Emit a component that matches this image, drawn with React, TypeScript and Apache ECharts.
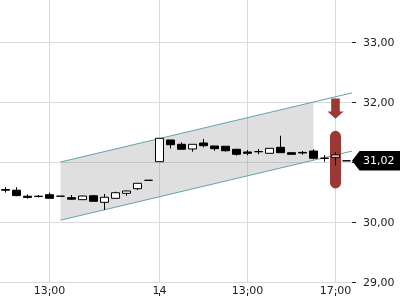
import React, { useEffect, useRef } from "react";
import * as echarts from "echarts";

const categories = [
  "11:00", "11:30", "12:00", "12:30", "13:00", "13:30", "14:00", "14:30", "15:00", "15:30",
  "16:00", "16:30", "17:00", "17:30", "14", "09:30", "10:00", "10:30", "11:00", "11:30",
  "12:00", "12:30", "13:00", "13:30", "14:00", "14:30", "15:00", "15:30", "16:00", "16:30",
  "17:00", "17:30",
];
const labelIndices = [4, 14, 22, 30];

const opens = [
  30.54, 30.53, 30.43, 30.43, 30.455, 30.43, 30.405, 30.372, 30.438, 30.328,
  30.395, 30.478, 30.555, 30.695, 31.005, 31.367, 31.295, 31.217, 31.317, 31.267,
  31.262, 31.212, 31.167, 31.175, 31.145, 31.245, 31.155, 31.16, 31.183, 31.065,
  31.078, 31.02,
];
const closes = [
  30.53, 30.44, 30.41, 30.425, 30.395, 30.43, 30.38, 30.433, 30.345, 30.412,
  30.488, 30.517, 30.645, 30.695, 31.395, 31.288, 31.212, 31.295, 31.272, 31.222,
  31.188, 31.128, 31.145, 31.17, 31.228, 31.155, 31.128, 31.15, 31.062, 31.06,
  31.117, 31.02,
];
const lows = [
  30.49, 30.43, 30.39, 30.41, 30.39, 30.43, 30.37, 30.37, 30.345, 30.2,
  30.395, 30.438, 30.533, 30.695, 31.005, 31.225, 31.212, 31.172, 31.245, 31.188,
  31.172, 31.105, 31.112, 31.128, 31.145, 31.155, 31.12, 31.122, 31.045, 31.005,
  30.945, 31.02,
];
const highs = [
  30.58, 30.58, 30.46, 30.45, 30.49, 30.43, 30.45, 30.44, 30.45, 30.467,
  30.505, 30.52, 30.645, 30.695, 31.395, 31.367, 31.328, 31.295, 31.383, 31.267,
  31.262, 31.212, 31.2, 31.217, 31.228, 31.438, 31.16, 31.183, 31.212, 31.117,
  31.167, 31.02,
];

const yMin = 29;
const yMax = 34;
const yInterval = 1;

const channelIdx = [5, 28];
const channelUpper = [31.0, 32.0];
const channelLower = [30.03, 31.03];

const signalIdx = 30;
const signalBar = [30.56, 31.52];
const signalArrow = [32.06, 31.84, 31.72];

const lastPrice = 31.02;

const fmt = (v: number) => v.toFixed(2).replace(".", ",");

export default function App() {
  const ref = useRef<HTMLDivElement>(null);

  useEffect(() => {
    if (!ref.current) return;
    const chart = echarts.init(ref.current, null, { renderer: "svg" });
    const candleData = opens.map((o, i) => [o, closes[i], lows[i], highs[i]]);
    const showLabel = (i: number) => labelIndices.includes(i);
    const font = "DejaVu Sans";

    chart.setOption({
      animation: false,
      textStyle: { fontFamily: font },
      grid: {
        left: 0,
        right: 48,
        top: -18,
        bottom: 18,
        containLabel: false,
        outerBoundsMode: "none",
      },
      xAxis: [
        {
          type: "category",
          data: categories,
          boundaryGap: true,
          axisLine: { show: false },
          axisTick: { show: false },
          axisLabel: {
            interval: showLabel,
            margin: 3,
            fontSize: 11,
            color: "#222",
            fontFamily: font,
          },
          splitLine: {
            show: true,
            interval: showLabel,
            alignWithLabel: true,
            lineStyle: { color: "#dadada", width: 1 },
          },
        },
        {
          type: "category",
          data: categories,
          position: "bottom",
          offset: 11,
          boundaryGap: true,
          axisLine: { show: false },
          axisTick: {
            show: true,
            interval: showLabel,
            alignWithLabel: true,
            length: 3,
            lineStyle: { color: "#222" },
          },
          axisLabel: { show: false },
          splitLine: { show: false },
        },
      ],
      yAxis: {
        type: "value",
        position: "right",
        min: yMin,
        max: yMax,
        interval: yInterval,
        axisLine: { show: false },
        axisTick: { show: true, length: 4, lineStyle: { color: "#222" } },
        axisLabel: {
          margin: 11,
          fontSize: 11,
          color: "#222",
          fontFamily: font,
          showMaxLabel: false,
          formatter: (v: number) => (v >= yMax ? "" : fmt(v)),
        },
        splitLine: { show: true, lineStyle: { color: "#dadada", width: 1 } },
      },
      series: [
        {
          type: "custom",
          name: "channel",
          silent: true,
          data: [[0, 0]],
          renderItem: (params: any, api: any) => {
            const cs = params.coordSys;
            const right = cs.x + cs.width;
            const u1 = api.coord([channelIdx[0], channelUpper[0]]);
            const u2 = api.coord([channelIdx[1], channelUpper[1]]);
            const l1 = api.coord([channelIdx[0], channelLower[0]]);
            const l2 = api.coord([channelIdx[1], channelLower[1]]);
            const ext = (a: number[], b: number[]) =>
              a[1] + ((right - a[0]) * (b[1] - a[1])) / (b[0] - a[0]);
            return {
              type: "group",
              children: [
                {
                  type: "polygon",
                  shape: { points: [u1, u2, l2, l1] },
                  style: { fill: "rgba(150,150,150,0.3)" },
                },
                {
                  type: "line",
                  shape: { x1: u1[0], y1: u1[1], x2: right, y2: ext(u1, u2) },
                  style: { stroke: "#62a3ab", lineWidth: 1 },
                },
                {
                  type: "line",
                  shape: { x1: l1[0], y1: l1[1], x2: right, y2: ext(l1, l2) },
                  style: { stroke: "#62a3ab", lineWidth: 1 },
                },
              ],
            };
          },
          z: 1,
        },
        {
          type: "custom",
          name: "signalBar",
          silent: true,
          data: [[signalIdx, signalBar[1]]],
          renderItem: (params: any, api: any) => {
            const top = api.coord([signalIdx, signalBar[1]]);
            const bot = api.coord([signalIdx, signalBar[0]]);
            const w = 11;
            return {
              type: "rect",
              shape: { x: top[0] - w / 2, y: top[1], width: w, height: bot[1] - top[1], r: w / 2 },
              style: { fill: "#9b3a35" },
            };
          },
          z: 2,
        },
        {
          type: "candlestick",
          name: "price",
          data: candleData,
          barWidth: 8,
          itemStyle: {
            color: "#ffffff",
            color0: "#000000",
            borderColor: "#000000",
            borderColor0: "#000000",
            borderColorDoji: "#000000",
            borderWidth: 1,
          },
          z: 3,
        },
        {
          type: "custom",
          name: "signalArrow",
          silent: true,
          data: [[signalIdx, signalArrow[0]]],
          renderItem: (params: any, api: any) => {
            const t = api.coord([signalIdx, signalArrow[0]]);
            const n = api.coord([signalIdx, signalArrow[1]]);
            const p = api.coord([signalIdx, signalArrow[2]]);
            const cx = t[0];
            const sw = 4.3;
            const hw = 8;
            return {
              type: "polygon",
              shape: {
                points: [
                  [cx - sw, t[1]],
                  [cx + sw, t[1]],
                  [cx + sw, n[1]],
                  [cx + hw, n[1]],
                  [cx, p[1]],
                  [cx - hw, n[1]],
                  [cx - sw, n[1]],
                ],
              },
              style: { fill: "#9b3a35" },
            };
          },
          z: 4,
        },
        {
          type: "custom",
          name: "lastPrice",
          silent: true,
          data: [[31, lastPrice]],
          renderItem: (params: any, api: any) => {
            const cs = params.coordSys;
            const right = cs.x + cs.width;
            const y = api.coord([31, lastPrice])[1];
            const h = 9.8;
            return {
              type: "group",
              children: [
                {
                  type: "polygon",
                  shape: {
                    points: [
                      [right, y],
                      [right + 7.5, y - h],
                      [400, y - h],
                      [400, y + h],
                      [right + 7.5, y + h],
                    ],
                  },
                  style: { fill: "#000000" },
                },
                {
                  type: "text",
                  x: right + 11,
                  y: y,
                  style: {
                    text: fmt(lastPrice),
                    fill: "#ffffff",
                    font: `11px "${font}"`,
                    verticalAlign: "middle",
                    align: "left",
                  },
                },
              ],
            };
          },
          z: 5,
        },
      ],
    });

    return () => chart.dispose();
  }, []);

  return (
    <div
      ref={ref}
      style={{ position: "fixed", left: 0, top: 0, width: 400, height: 300 }}
    />
  );
}
